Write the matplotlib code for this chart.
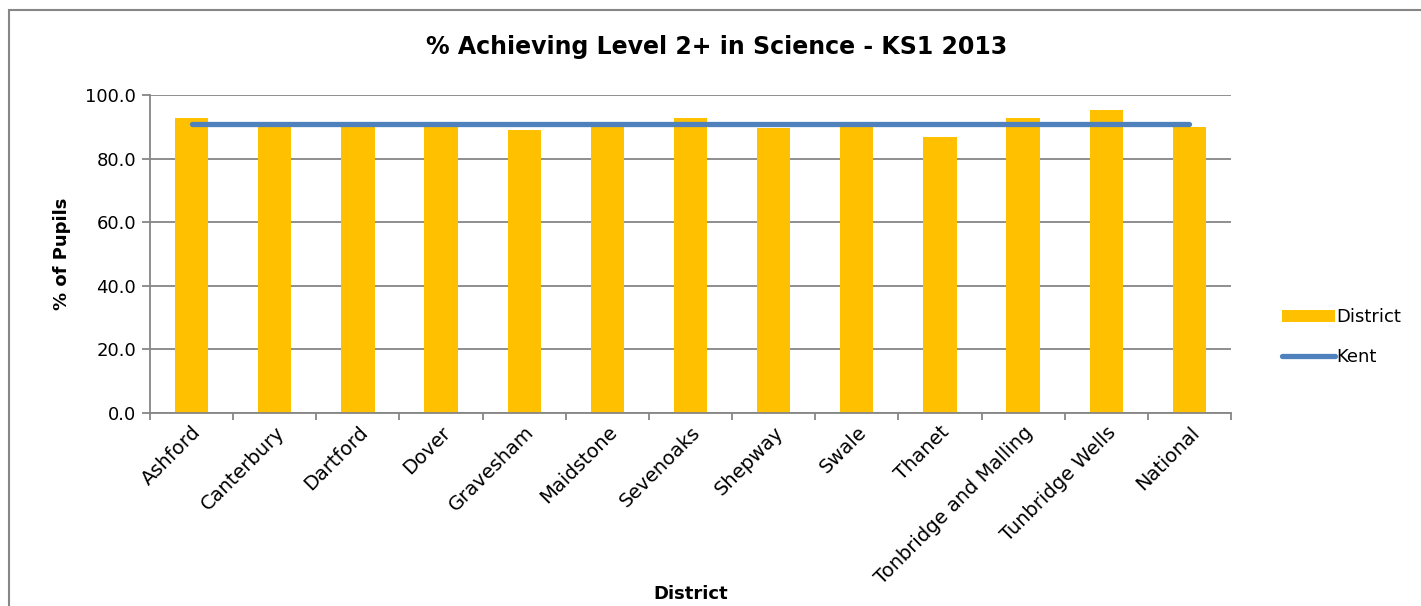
import matplotlib.pyplot as plt
from matplotlib.lines import Line2D
from matplotlib.patches import Patch, Rectangle
import numpy as np

districts = ['Ashford', 'Canterbury', 'Dartford', 'Dover', 'Gravesham', 'Maidstone',
             'Sevenoaks', 'Shepway', 'Swale', 'Thanet', 'Tonbridge and Malling',
             'Tunbridge Wells', 'National']
district_pct = [92.8, 91.0, 91.0, 91.0, 88.9, 91.0, 92.7, 89.6, 91.0, 86.9, 92.7, 95.4, 90.0]
kent_pct = [91.0] * len(districts)
y_ticks = [0, 20, 40, 60, 80, 100]

bar_col = '#FFC000'
line_col = '#4F81BD'
grid_col = '#868686'

fig = plt.figure(figsize=(14.21, 6.06), dpi=100)
ax = fig.add_axes([150 / 1421, 1 - 413 / 606, 1081 / 1421, 318 / 606])

x = np.arange(len(districts))
ax.bar(x, district_pct, width=0.4, color=bar_col, zorder=2)
ax.plot(x, kent_pct, color=line_col, linewidth=3.8, solid_capstyle='round', zorder=3)

ax.set_xlim(-0.5, len(districts) - 0.5)
ax.set_ylim(0, 100)
ax.set_yticks(y_ticks)
ax.set_yticklabels([f'{v:.1f}' for v in y_ticks], fontsize=13)
ax.yaxis.grid(True, color=grid_col, linewidth=1.3, zorder=0)
ax.set_axisbelow(True)

ax.set_xticks(x)
ax.set_xticklabels(districts, rotation=45, ha='right', rotation_mode='anchor', fontsize=14)
ax.set_xticks(np.arange(-0.5, len(districts)), minor=True)
ax.tick_params(axis='x', which='major', length=0, pad=7)
ax.tick_params(axis='x', which='minor', length=5, color=grid_col, width=1.3)
ax.tick_params(axis='y', length=6, color=grid_col, width=1.3, pad=4)

for s in ['top', 'right']:
    ax.spines[s].set_visible(False)
for s in ['left', 'bottom']:
    ax.spines[s].set_color(grid_col)
    ax.spines[s].set_linewidth(1.3)

ax.set_ylabel('% of Pupils', fontsize=13, fontweight='bold', labelpad=10)
fig.text(691 / 1421, 1 - 594 / 606, 'District', fontsize=13, fontweight='bold',
         ha='center', va='center')
fig.text(717 / 1421, 1 - 47 / 606, '% Achieving Level 2+ in Science - KS1 2013',
         fontsize=17, fontweight='bold', ha='center', va='center')

handles = [Patch(facecolor=bar_col, label='District'),
           Line2D([0], [0], color=line_col, linewidth=3.8, solid_capstyle='round', label='Kent')]
fig.legend(handles=handles, loc='center left', bbox_to_anchor=(1266 / 1421, 1 - 337 / 606),
           frameon=False, fontsize=13, handlelength=2.9, handletextpad=0.1,
           labelspacing=1.2)

fig.patches.append(Rectangle((8.5 / 1421, -0.1), 1.2, 1.1 - 10 / 606,
                             transform=fig.transFigure, fill=False,
                             edgecolor=grid_col, linewidth=1.5))

fig.savefig('out.png', dpi=100, facecolor='white')
